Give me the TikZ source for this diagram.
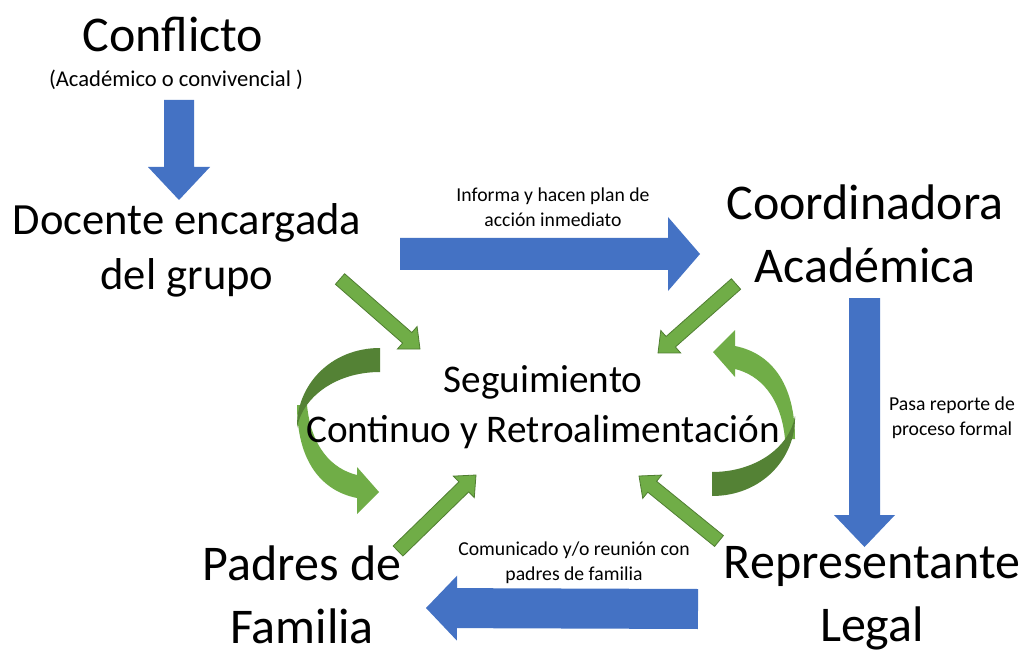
\documentclass[tikz,border=0pt]{standalone}
\usepackage{fontspec}
\setmainfont{Carlito}
\usetikzlibrary{calc}
\definecolor{ablue}{HTML}{4472C4}
\definecolor{agreen}{HTML}{70AD47}
\definecolor{agreenline}{HTML}{507E32}
\definecolor{adark}{HTML}{548235}
% block arrow: style, from, to, half shaft width, half head width, head length
\newcommand\blockarrow[6]{%
  \coordinate (bahead) at ($(#3)!#6!(#2)$);
  \path[#1] ($(#2)!#4!90:(#3)$) -- ($(bahead)!#4!90:(#3)$) -- ($(bahead)!#5!90:(#3)$) -- (#3)
    -- ($(bahead)!#5!-90:(#3)$) -- ($(bahead)!#4!-90:(#3)$) -- ($(#2)!#4!-90:(#3)$) -- cycle;}
\newcommand\loopshape{%
  \fill[agreen] (297,405) .. controls (297,462) and (322,491) .. (357,498) -- (357,514) -- (379,492)
    -- (357,467) -- (357,475) .. controls (332,469) and (311,447) .. (307,405) -- cycle;
  \fill[adark] (380,348) .. controls (330,348) and (296,386) .. (297,428)
    .. controls (302,398) and (335,372) .. (380,372) -- cycle;}
\tikzset{
  bluearrow/.style={fill=ablue},
  greenarrow/.style={fill=agreen, draw=agreenline, line width=0.8pt, line join=miter},
  txt/.style={inner sep=0pt, align=center, text=black},
  huge/.style={txt, font=\fontsize{50}{63}\selectfont},
  large/.style={txt, font=\fontsize{44.6}{55}\selectfont},
  center/.style={txt, font=\fontsize{39.2}{50}\selectfont},
  subtitle/.style={txt, font=\fontsize{22.6}{26}\selectfont},
  label/.style={txt, font=\fontsize{19.7}{25}\selectfont},
}
\begin{document}
\begin{tikzpicture}[x=1pt, y=-1pt]
\useasboundingbox[fill=white] (0,0) rectangle (1031,655);
% coordinates of the arrows
\coordinate (b1s) at (179,100); \coordinate (b1e) at (179,200);
\coordinate (b2s) at (400,254); \coordinate (b2e) at (700,254);
\coordinate (b3s) at (864.5,298); \coordinate (b3e) at (864.5,547);
\coordinate (b4s) at (698,609); \coordinate (b4e) at (426,608);
\coordinate (g1s) at (340,279); \coordinate (g1e) at (420,349);
\coordinate (g2s) at (736,284); \coordinate (g2e) at (658,353);
\coordinate (g3s) at (398,551); \coordinate (g3e) at (476,475);
\coordinate (g4s) at (719,541); \coordinate (g4e) at (639,476);
% blue arrows
\blockarrow{bluearrow}{b1s}{b1e}{15pt}{31pt}{33pt}
\blockarrow{bluearrow}{b2s}{b2e}{16pt}{37pt}{32pt}
\blockarrow{bluearrow}{b3s}{b3e}{15.5pt}{30.5pt}{32pt}
\blockarrow{bluearrow}{b4s}{b4e}{20pt}{32.5pt}{31pt}
% green arrows
\blockarrow{greenarrow}{g1s}{g1e}{7pt}{15pt}{17pt}
\blockarrow{greenarrow}{g2s}{g2e}{7pt}{15pt}{17pt}
\blockarrow{greenarrow}{g3s}{g3e}{7pt}{15pt}{17pt}
\blockarrow{greenarrow}{g4s}{g4e}{7pt}{15pt}{17pt}
% curved arrows
\loopshape
\begin{scope}[rotate around={180:(546,422)}]
\loopshape
\end{scope}
% texts
\node[huge, anchor=base] (conf) at (173,52) {Conflicto};
\node[subtitle, anchor=base] (confsub) at (176,87) {(Académico o convivencial )};
\node[large] (doc) at (187,250) {Docente encargada\\del grupo};
\node[huge] (coord) at (865,234) {Coordinadora\\Académica};
\node[center] (seg) at (543,407) {Seguimiento\\Continuo y Retroalimentación};
\node[huge] (pad) at (302,595) {Padres de\\Familia};
\node[huge] (rep) at (872,598) {Representante\\Legal};
\node[label] (l1) at (553,207) {Informa y hacen plan de\\acción inmediato};
\node[label] (l2) at (574,563) {Comunicado y/o reunión con\\padres de familia};
\node[label] (l3) at (952,418) {Pasa reporte de\\proceso formal};
\end{tikzpicture}
\end{document}
